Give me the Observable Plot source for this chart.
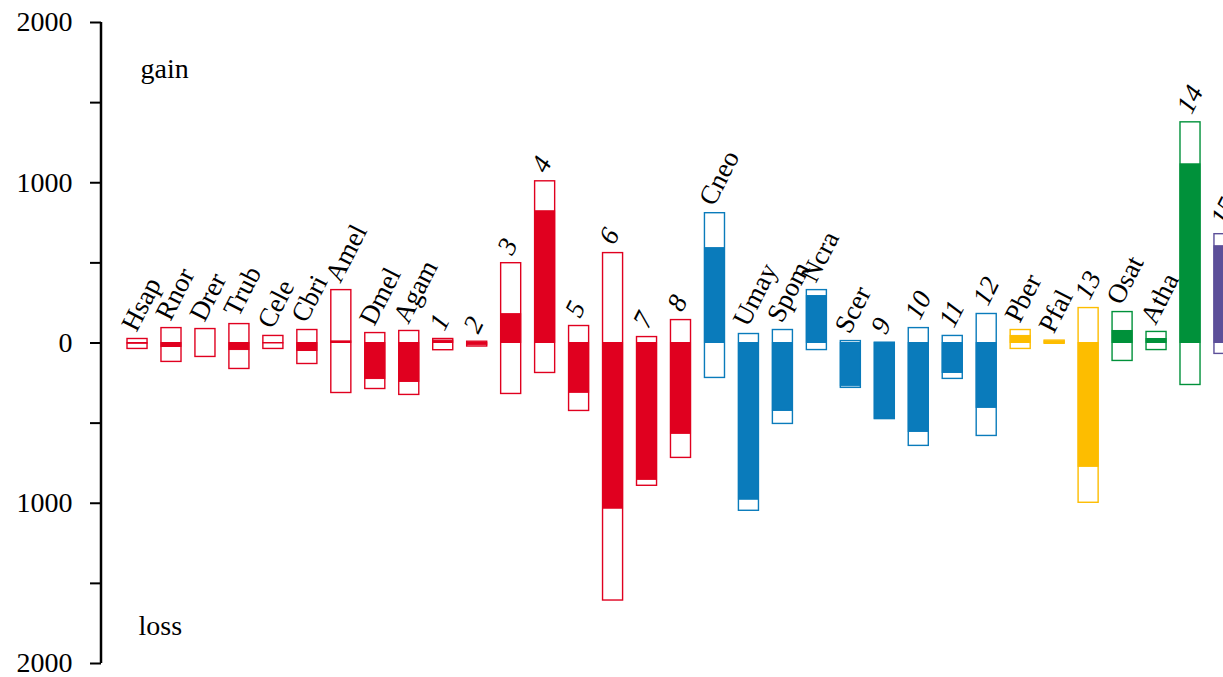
<!DOCTYPE html>
<html><head><meta charset="utf-8">
<script src="https://cdn.jsdelivr.net/npm/d3@7"></script>
<script src="https://cdn.jsdelivr.net/npm/@observablehq/plot@0.6"></script>
<style>html,body{margin:0;padding:0;background:#fff;overflow:hidden}</style>
</head><body><div id="chart"></div>
<script>
const categories = ["Hsap","Rnor","Drer","Trub","Cele","Cbri","Amel","Dmel","Agam","1","2","3","4","5","6","7","8",
  "Cneo","Umay","Spom","Ncra","Scer","9","10","11","12","Pber","Pfal","13","Osat","Atha","14","15"];
const gains  = [25, 93, 87, 118, 44, 81, 330, 62, 75, 25, 8, 498, 1009, 106, 561, 37, 143,
  810, 56, 81, 330, 12, 2, 93, 44, 181, 81, 15, 218, 193, 69, 1377, 679];
const losses = [37, 118, 87, 162, 37, 131, 312, 287, 324, 45, 22, 318, 187, 424, 1607, 891, 717,
  218, 1047, 505, 44, 280, 475, 642, 224, 580, 37, 5, 997, 112, 44, 262, 68];
const nets   = [-5, -25, 0, -44, -3, -50, 10, -225, -243, 15, -14, 180, 822, -311, -1034, -854, -567,
  592, -978, -424, 293, -270, -473, -555, -187, -405, 44, 10, -773, 75, 25, 1115, 604];
const groups = ["A","A","A","A","A","A","A","A","A","A","A","A","A","A","A","A","A",
  "F","F","F","F","F","F","F","F","F","P","P","P","G","G","G","V"];
const groupNames  = ["A","F","P","G","V"];
const groupColors = ["#e0001f","#0a7bbb","#fdbd00","#00913a","#5c4f99"];
const yTicks = d3.range(-2000, 2001, 500);
const sideLabels = ["gain","loss"];

const rows = categories.map((c, i) => ({
  cat: c, gain: gains[i], loss: -losses[i], net: nets[i], group: groups[i], numeric: /^\d+$/.test(c)
}));

const plot = Plot.plot({
  width: 1223, height: 677,
  marginTop: 22, marginBottom: 14, marginLeft: 101, marginRight: 0,
  style: {fontFamily: "Liberation Serif", background: "#fff"},
  x: {domain: categories, range: [127, 1234], paddingInner: 0.41, paddingOuter: 0, axis: null},
  y: {domain: [-2000, 2000], axis: null},
  color: {domain: groupNames, range: groupColors},
  marks: [
    Plot.barY(rows, {x: "cat", y1: "loss", y2: "gain", fill: "white", stroke: "group", strokeWidth: 1.4}),
    Plot.barY(rows, {x: "cat", y1: 0, y2: "net", fill: "group", stroke: "group", strokeWidth: 1}),
    Plot.text(rows.filter(d => !d.numeric), {x: "cat", y: "gain", text: "cat", rotate: -63,
      textAnchor: "start", lineAnchor: "bottom", dx: -1, dy: -6, fontSize: 27, fill: "black"}),
    Plot.text(rows.filter(d => d.numeric), {x: "cat", y: "gain", text: "cat", rotate: -63,
      textAnchor: "start", lineAnchor: "bottom", dx: 1, dy: -7, fontSize: 27, fontStyle: "italic", fill: "black"}),
    Plot.text([sideLabels[0]], {frameAnchor: "top-left", text: d => d, textAnchor: "start", lineAnchor: "bottom",
      dx: 39, dy: 55, fontSize: 28, fill: "black"}),
    Plot.text([sideLabels[1]], {frameAnchor: "bottom-left", text: d => d, textAnchor: "start", lineAnchor: "bottom",
      dx: 37, dy: -29, fontSize: 28, fill: "black"}),
    Plot.axisY({ticks: yTicks, tickFormat: d => d % 1000 === 0 ? String(Math.abs(d)) : "",
      tickSize: 11, tickPadding: 18, fontSize: 28, strokeWidth: 2, stroke: "black", fill: "black", label: null})
  ]
});

const ys = plot.scale("y");
d3.select(plot).append("line")
  .attr("x1", 101).attr("x2", 101)
  .attr("y1", ys.apply(2000)).attr("y2", ys.apply(-2000))
  .attr("stroke", "black").attr("stroke-width", 2.5);

document.getElementById("chart").appendChild(plot);
</script>
</body></html>
